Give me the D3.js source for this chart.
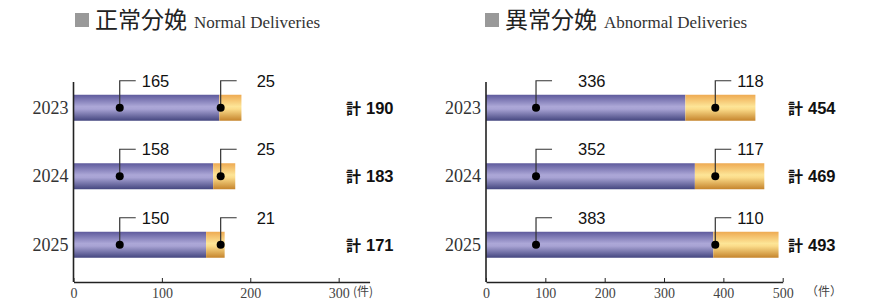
<!DOCTYPE html>
<html><head><meta charset="utf-8">
<script src="https://cdn.jsdelivr.net/npm/d3@7"></script>
<style>
body{margin:0;background:#fff;}
svg{display:block;}
</style></head>
<body>
<svg id="c" width="881" height="302"></svg>
<script>
const years = ["2023","2024","2025"];
const normalMain = [165,158,150];
const normalSub = [25,25,21];
const normalTotal = [190,183,171];
const abnormalMain = [336,352,383];
const abnormalSub = [118,117,110];
const abnormalTotal = [454,469,493];
const normalTicks = [0,100,200,300];
const abnormalTicks = [0,100,200,300,400,500];

const svg = d3.select("#c");
const defs = svg.append("defs");
function grad(id, stops){
  const g = defs.append("linearGradient").attr("id",id).attr("x1",0).attr("y1",0).attr("x2",0).attr("y2",1);
  stops.forEach(s=>g.append("stop").attr("offset",s[0]).attr("stop-color",s[1]));
}
grad("gBlue",[[0,"#5e5a9c"],[0.45,"#aca7d7"],[0.55,"#a8a3d4"],[1,"#44467f"]]);
grad("gOrange",[[0,"#eeaa52"],[0.45,"#fde597"],[0.55,"#fbdc8a"],[1,"#c5842c"]]);

const serif = "'Liberation Serif','Times New Roman',serif";
const sans = "'Liberation Sans',Arial,sans-serif";
const cjk = "'Noto Sans CJK JP',sans-serif";

function panel(o){
  const g = svg.append("g");
  const x = d3.scaleLinear().domain(o.domain).range(o.xRange);
  const y = d3.scalePoint().domain(years).range([73.5,279]).padding(0.5);
  const bh = 26;
  const axisY = 282;

  // title
  g.append("rect").attr("x",o.titleX).attr("y",13).attr("width",14).attr("height",14).attr("fill","#999");
  const t = g.append("text").attr("x",o.titleX+20).attr("y",28).attr("fill","#222");
  t.append("tspan").attr("font-family",cjk).attr("font-size",23).text(o.titleJa);
  t.append("tspan").attr("font-family",serif).attr("font-size",17).attr("dx",7).attr("fill","#333").text(o.titleEn);

  // bars
  years.forEach((yr,i)=>{
    const cy = y(yr);
    const a = o.main[i], b = o.sub[i];
    g.append("rect").attr("x",x(0)).attr("y",cy-bh/2).attr("width",x(a)-x(0)).attr("height",bh).attr("fill","url(#gBlue)");
    g.append("rect").attr("x",x(a)).attr("y",cy-bh/2).attr("width",x(a+b)-x(a)).attr("height",bh).attr("fill","url(#gOrange)");
    // leaders
    [[o.leadA,a,o.labA],[o.leadB,b,o.labB]].forEach(([lx,val,lab])=>{
      const px = x(lx);
      const ly = cy - bh/2 - 14;
      g.append("path").attr("d",`M${px},${cy}V${ly}H${px+16}`).attr("fill","none").attr("stroke","#333").attr("stroke-width",1.2);
      g.append("circle").attr("cx",px).attr("cy",cy).attr("r",4).attr("fill","#000");
      g.append("text").attr("x",px+lab).attr("y",ly+6).attr("font-family",sans).attr("font-size",16.5).attr("fill","#111").text(val);
    });
    // total
    const tt = g.append("text").attr("x",o.totalX).attr("y",cy+6).attr("fill","#111").attr("font-weight","bold");
    tt.append("tspan").attr("font-family",cjk).attr("font-size",15).text("計");
    tt.append("tspan").attr("font-family",sans).attr("font-size",16.5).attr("dx",5).text(o.total[i]);
    // year label
    g.append("text").attr("x",x(0)-5).attr("y",cy+6).attr("text-anchor","end").attr("font-family",serif).attr("font-size",18).attr("fill","#333").text(yr);
  });

  // vertical axis
  g.append("line").attr("x1",x(0)).attr("x2",x(0)).attr("y1",82).attr("y2",axisY).attr("stroke","#222").attr("stroke-width",1.6);
  // x axis
  const ax = g.append("g").attr("transform",`translate(0,${axisY})`)
    .call(d3.axisBottom(x).tickValues(o.ticks).tickSizeInner(-4).tickSizeOuter(0).tickPadding(4).tickFormat(d3.format("d")));
  ax.select(".domain").attr("stroke","#222").attr("stroke-width",1.6);
  ax.selectAll(".tick line").attr("stroke","#222").attr("stroke-width",1);
  ax.selectAll(".tick text").attr("font-family",serif).attr("font-size",14).attr("fill","#444").attr("dy","0.85em");
  g.append("text").attr("x",o.unitX).attr("y",axisY+14).attr("font-family",cjk).attr("font-size",12).attr("fill","#444").text(o.unit);
  return g;
}

panel({domain:[0,335], xRange:[73.5,369.6], ticks:normalTicks, main:normalMain, sub:normalSub, total:normalTotal,
  titleX:75, titleJa:"正常分娩", titleEn:"Normal Deliveries", leadA:52.3, leadB:166.5, labA:22, labB:36, totalX:346, unitX:353, unit:"(件)"});
panel({domain:[0,500], xRange:[486,782.7], ticks:abnormalTicks, main:abnormalMain, sub:abnormalSub, total:abnormalTotal,
  titleX:485, titleJa:"異常分娩", titleEn:"Abnormal Deliveries", leadA:84.3, leadB:386.4, labA:42, labB:22, totalX:788, unitX:806, unit:"（件）"});
</script>
</body></html>
